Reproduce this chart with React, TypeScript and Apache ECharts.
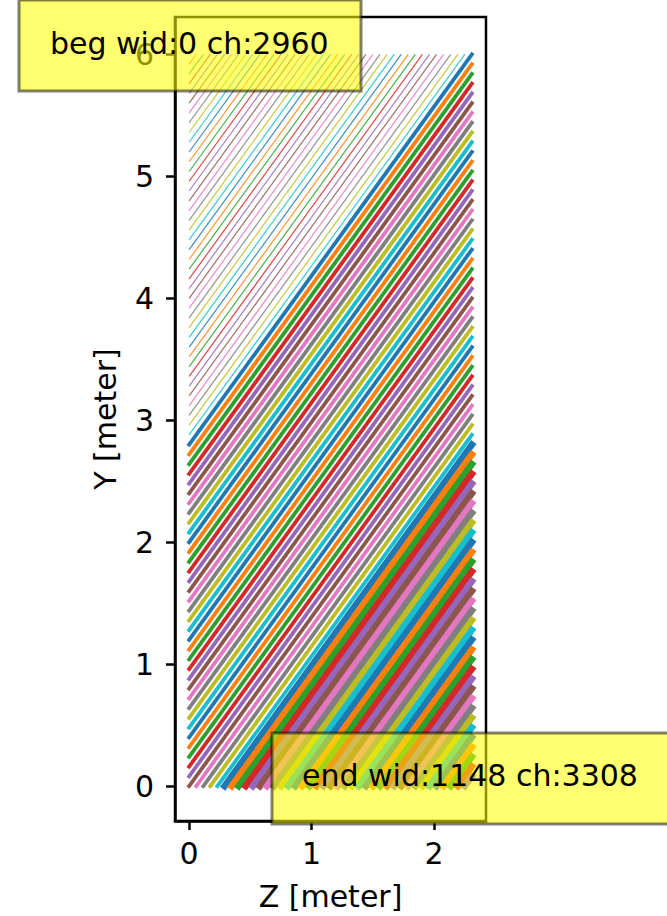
import React, { useEffect, useRef } from "react";
import * as echarts from "echarts";

const palette = ["#1f77b4", "#ff7f0e", "#2ca02c", "#d62728", "#9467bd", "#8c564b", "#e377c2", "#7f7f7f", "#bcbd22", "#17becf"];

// Where each slanted wire meets the edges of the wire plane (metres)
const leftEdgeY = [
  5.92, 5.84, 5.76, 5.68, 5.6, 5.52, 5.44, 5.36, 5.28, 5.2, 5.12, 5.04, 4.96, 4.88, 4.8,
  4.72, 4.64, 4.56, 4.48, 4.4, 4.32, 4.24, 4.16, 4.08, 4.0, 3.92, 3.84, 3.76, 3.68, 3.6,
  3.52, 3.44, 3.36, 3.28, 3.2, 3.12, 3.04, 2.96, 2.88, 2.8, 2.72, 2.64, 2.56, 2.48, 2.4,
  2.32, 2.24, 2.16, 2.08, 2.0, 1.92, 1.84, 1.76, 1.68, 1.6, 1.52, 1.44, 1.36, 1.28, 1.2,
  1.12, 1.04, 0.96, 0.88, 0.8, 0.72, 0.64, 0.56, 0.48, 0.4, 0.32, 0.24, 0.16, 0.08, 0.0,
];
const bottomEdgeZ = [
  0.058, 0.116, 0.173, 0.231, 0.289, 0.347, 0.404, 0.462, 0.52, 0.578, 0.635, 0.693, 0.751,
  0.809, 0.866, 0.924, 0.982, 1.04, 1.097, 1.155, 1.213, 1.271, 1.328, 1.386, 1.444, 1.502,
  1.559, 1.617, 1.675, 1.733, 1.79, 1.848, 1.906, 1.964, 2.021, 2.079, 2.137, 2.195, 2.252,
];
const topEdgeZ = [
  0.058, 0.116, 0.173, 0.231, 0.289, 0.347, 0.404, 0.462, 0.52, 0.578, 0.635, 0.693, 0.751,
  0.809, 0.866, 0.924, 0.982, 1.04, 1.097, 1.155, 1.213, 1.271, 1.328, 1.386, 1.444, 1.502,
  1.559, 1.617, 1.675, 1.733, 1.79, 1.848, 1.906, 1.964, 2.021, 2.079, 2.137, 2.195, 2.252,
];
const rightEdgeY = [
  6.0, 5.92, 5.84, 5.76, 5.68, 5.6, 5.52, 5.44, 5.36, 5.28, 5.2, 5.12, 5.04, 4.96, 4.88,
  4.8, 4.72, 4.64, 4.56, 4.48, 4.4, 4.32, 4.24, 4.16, 4.08, 4.0, 3.92, 3.84, 3.76, 3.68,
  3.6, 3.52, 3.44, 3.36, 3.28, 3.2, 3.12, 3.04, 2.96, 2.88, 2.8, 2.72, 2.64, 2.56, 2.48,
  2.4, 2.32, 2.24, 2.16, 2.08, 2.0, 1.92, 1.84, 1.76, 1.68, 1.6, 1.52, 1.44, 1.36, 1.28,
  1.2, 1.12, 1.04, 0.96, 0.88, 0.8, 0.72, 0.64, 0.56, 0.48, 0.4, 0.32, 0.24, 0.16, 0.08,
];
const planeTopY = 6;
const planeRightZ = 2.31;
const planeBottomY = 0;
const planeLeftZ = 0;

const xTicks = [0, 1, 2];
const yTicks = [0, 1, 2, 3, 4, 5, 6];
const xLabel = "Z [meter]";
const yLabel = "Y [meter]";
const begLabel = "beg wid:0 ch:2960";
const endLabel = "end wid:1148 ch:3308";

const FONT = "DejaVu Sans";

function wire(i: number) {
  const start = i <= leftEdgeY.length ? [planeLeftZ, leftEdgeY[i - 1]] : [bottomEdgeZ[i - leftEdgeY.length - 1], planeBottomY];
  const end = i <= topEdgeZ.length ? [topEdgeZ[i - 1], planeTopY] : [planeRightZ, rightEdgeY[i - topEdgeZ.length - 1]];
  return [start, end];
}

export default function App() {
  const ref = useRef<HTMLDivElement>(null);
  useEffect(() => {
    const chart = echarts.init(ref.current!, undefined, { renderer: "svg" });
    const total = topEdgeZ.length + rightEdgeY.length;
    const series: any[] = [];
    for (let i = 1; i <= total; i++) {
      const thin = i < 40;
      const thick = i >= 80;
      series.push({
        type: "line",
        data: wire(i),
        symbol: "none",
        silent: true,
        clip: false,
        lineStyle: {
          color: palette[i % 10],
          width: thin ? 1.2 : thick ? 6.6 : 3.8,
          cap: thin ? "butt" : "square",
          opacity: thin ? 0.85 : 1,
        },
      });
    }
    const axisCommon = {
      type: "value",
      nameLocation: "middle",
      splitLine: { show: false },
      axisLine: { show: true, onZero: false, lineStyle: { color: "#000", width: 2.5 } },
      nameTextStyle: { fontFamily: FONT, fontSize: 30, color: "#000" },
    };
    chart.setOption({
      animation: false,
      grid: { show: true, left: 175, top: 17, width: 311, height: 807, borderColor: "#000", borderWidth: 2.5, backgroundColor: "transparent", containLabel: false },
      xAxis: {
        ...axisCommon,
        min: -0.1155,
        max: 2.4255,
        name: xLabel,
        nameGap: 60,
        axisTick: { show: true, length: 9, customValues: xTicks, lineStyle: { color: "#000", width: 2.5 } },
        axisLabel: { customValues: xTicks, margin: 17, fontFamily: FONT, fontSize: 30, color: "#000", formatter: (v: number) => String(v) },
      },
      yAxis: {
        ...axisCommon,
        min: -0.286,
        max: 6.307,
        name: yLabel,
        nameGap: 55,
        axisTick: { show: true, length: 9, customValues: yTicks, lineStyle: { color: "#000", width: 2.5 } },
        axisLabel: { customValues: yTicks, margin: 21, fontFamily: FONT, fontSize: 30, color: "#000", formatter: (v: number) => String(v) },
      },
      series,
      graphic: [
        { type: "rect", z: 100, shape: { x: 19, y: 0, width: 342, height: 91 }, style: { fill: "rgba(255,255,0,0.56)", stroke: "rgba(0,0,0,0.5)", lineWidth: 3 } },
        { type: "text", z: 101, x: 50, y: 43, style: { text: begLabel, fontFamily: FONT, fontSize: 30, fill: "#000", textVerticalAlign: "middle" } },
        { type: "rect", z: 100, shape: { x: 272, y: 733, width: 420, height: 91 }, style: { fill: "rgba(255,255,0,0.56)", stroke: "rgba(0,0,0,0.5)", lineWidth: 3 } },
        { type: "text", z: 101, x: 302, y: 775, style: { text: endLabel, fontFamily: FONT, fontSize: 30, fill: "#000", textVerticalAlign: "middle" } },
      ],
    });
    return () => chart.dispose();
  }, []);
  return <div ref={ref} style={{ position: "absolute", left: 0, top: 0, width: 667, height: 916, background: "#fff" }} />;
}
